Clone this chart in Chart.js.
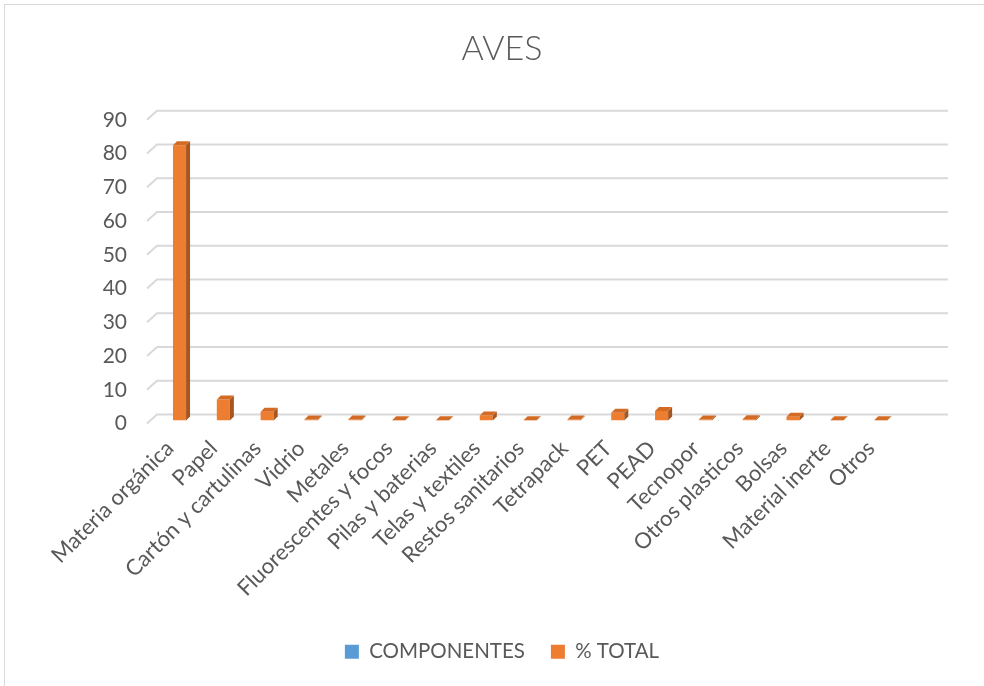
<!DOCTYPE html>
<html>
<head>
<meta charset="utf-8">
<script src="https://cdn.jsdelivr.net/npm/chart.js@4"></script>
<style>
  html, body { margin: 0; padding: 0; background: #ffffff; overflow: hidden; }
  #wrap { position: relative; width: 984px; height: 686px; overflow: hidden; }
  #frame { position: absolute; left: 4px; top: 4px; width: 1000px; height: 720px; border: 1px solid #d9d9d9; box-sizing: border-box; pointer-events: none; }
  canvas { position: absolute; left: 0; top: 0; }
</style>
</head>
<body>
<div id="wrap">
  <canvas id="c" width="1004" height="686"></canvas>
  <div id="frame"></div>
</div>
<script>
const chartTitle = 'AVES';
const categories = ['Materia orgánica', 'Papel', 'Cartón y cartulinas', 'Vidrio', 'Metales',
  'Fluorescentes y focos', 'Pilas y baterias', 'Telas y textiles', 'Restos sanitarios',
  'Tetrapack', 'PET', 'PEAD', 'Tecnopor', 'Otros plasticos', 'Bolsas', 'Material inerte', 'Otros'];
const componentes = [null, null, null, null, null, null, null, null, null, null, null, null, null, null, null, null, null];
const porcentajeTotal = [81.6, 6.2, 2.6, 0.3, 0.3, 0.1, 0.1, 1.5, 0.1, 0.3, 2.3, 2.8, 0.3, 0.4, 1.1, 0.1, 0.1];
const yMin = 0, yMax = 90, yStep = 10;

const TEXT = '#595959';
const FONT = 'Lato, "Open Sans", "Liberation Sans", sans-serif';

// back-wall gridlines with a short left-wall diagonal (Excel 3D look)
const wallGrid = {
  id: 'wallGrid',
  beforeDatasetsDraw(chart) {
    const {ctx, chartArea, scales: {y}} = chart;
    const dx = 9, dy = 6, ext = 55;
    ctx.save();
    ctx.strokeStyle = '#d9d9d9';
    ctx.lineWidth = 2;
    y.ticks.forEach(t => {
      const py = y.getPixelForValue(t.value);
      ctx.beginPath();
      ctx.moveTo(chartArea.left - 1, py + 3);
      ctx.lineTo(chartArea.left + dx, py - dy);
      ctx.lineTo(chartArea.right + ext, py - dy);
      ctx.stroke();
    });
    ctx.restore();
  }
};

// top and side faces for the bars
const bar3d = {
  id: 'bar3d',
  afterDatasetsDraw(chart) {
    const {ctx} = chart;
    const d = 4;
    chart.data.datasets.forEach((ds, di) => {
      const meta = chart.getDatasetMeta(di);
      if (meta.hidden) return;
      meta.data.forEach((el, i) => {
        if (ds.data[i] === null || ds.data[i] === undefined) return;
        const {x, y, base, width} = el.getProps(['x', 'y', 'base', 'width'], true);
        const l = x - width / 2, r = x + width / 2;
        ctx.save();
        ctx.fillStyle = ds.sideColor;
        ctx.beginPath();
        ctx.moveTo(r, y); ctx.lineTo(r + d, y - d); ctx.lineTo(r + d, base - d); ctx.lineTo(r, base);
        ctx.closePath(); ctx.fill();
        ctx.fillStyle = ds.topColor;
        ctx.beginPath();
        ctx.moveTo(l, y); ctx.lineTo(r, y); ctx.lineTo(r + d, y - d); ctx.lineTo(l + d, y - d);
        ctx.closePath(); ctx.fill();
        ctx.restore();
      });
    });
  }
};

new Chart(document.getElementById('c'), {
  type: 'bar',
  data: {
    labels: categories,
    datasets: [
      { label: 'COMPONENTES', data: componentes, backgroundColor: '#5B9BD5', sideColor: '#41719C', topColor: '#4E87BB', categoryPercentage: 0.877, barPercentage: 0.68 },
      { label: '% TOTAL', data: porcentajeTotal, backgroundColor: '#ED7D31', sideColor: '#A8561F', topColor: '#D46B25', categoryPercentage: 0.877, barPercentage: 0.68 }
    ]
  },
  options: {
    responsive: false,
    animation: false,
    devicePixelRatio: 1,
    layout: { padding: { left: 0, right: 0, top: 0, bottom: 14 } },
    plugins: {
      title: {
        display: true, text: chartTitle, color: TEXT,
        font: { family: FONT, size: 34, weight: '300' },
        padding: { top: 29, bottom: 47 }
      },
      legend: {
        position: 'bottom',
        labels: {
          color: TEXT, font: { family: FONT, size: 20.5 },
          boxWidth: 14, boxHeight: 14, padding: 26
        }
      },
      tooltip: { enabled: false }
    },
    scales: {
      x: {
        grid: { display: false, drawTicks: false },
        border: { display: false },
        ticks: {
          color: TEXT, font: { family: FONT, size: 22 },
          minRotation: 45, maxRotation: 45, autoSkip: false, padding: 15
        },
        afterFit(scale) { scale.height = 195; }
      },
      y: {
        min: yMin, max: yMax,
        grid: { display: false, drawTicks: false },
        border: { display: false },
        ticks: {
          stepSize: yStep, color: TEXT, font: { family: FONT, size: 21 },
          padding: 21, labelOffset: 3
        },
        afterFit(scale) { scale.width = 148; }
      },
      yRight: {
        position: 'right',
        min: yMin, max: yMax,
        grid: { display: false, drawTicks: false },
        border: { display: false },
        ticks: { display: false },
        afterFit(scale) { scale.width = 111; }
      }
    }
  },
  plugins: [wallGrid, bar3d]
});
</script>
</body>
</html>
